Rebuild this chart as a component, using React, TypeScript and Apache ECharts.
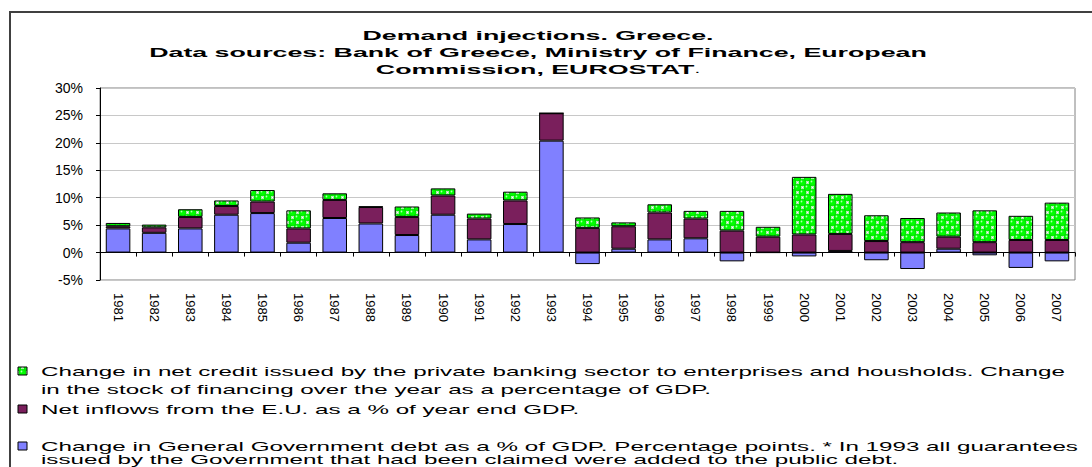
import React, { useEffect, useRef } from "react";
import * as echarts from "echarts";

const years = ["1981","1982","1983","1984","1985","1986","1987","1988","1989","1990","1991","1992","1993","1994","1995","1996","1997","1998","1999","2000","2001","2002","2003","2004","2005","2006","2007"];

// Change in General Government debt, % of GDP
const govDebt = [4.4, 3.6, 4.4, 6.9, 7.2, 1.8, 6.3, 5.3, 3.2, 6.9, 2.4, 5.2, 20.4, -2.1, 0.7, 2.4, 2.6, -1.6, 0.0, -0.7, 0.3, -1.4, -3.0, 0.7, -0.5, -2.8, -1.6];
// Net inflows from the E.U., % of GDP
const euInflows = [0.4, 1.0, 2.1, 1.6, 2.1, 2.6, 3.3, 3.0, 3.3, 3.5, 3.8, 4.3, 5.0, 4.5, 4.1, 4.9, 3.6, 4.0, 2.9, 3.3, 3.1, 2.1, 1.9, 2.2, 1.9, 2.3, 2.3];
// Change in net private credit, % of GDP
const privCredit = [0.6, 0.5, 1.4, 1.0, 2.1, 3.3, 1.2, 0.1, 1.9, 1.3, 0.9, 1.6, 0.0, 1.9, 0.7, 1.5, 1.4, 3.6, 1.8, 10.5, 7.3, 4.7, 4.4, 4.4, 5.8, 4.4, 6.8];

const yTicks = { min: -5, max: 30, interval: 5 };

const titleLines = [
  "Demand injections. Greece.",
  "Data sources: Bank of Greece, Ministry of Finance, European",
];
const titleLine3Bold = "Commission, EUROSTAT";
const titleLine3Rest = ".";

const legendCredit = [
  "Change in net credit issued by the private banking sector to enterprises and housholds. Change",
  "in the stock of financing over the year as a percentage of GDP.",
];
const legendEU = ["Net inflows from the E.U. as a % of year end GDP."];
const legendDebt = [
  "Change in General Government debt as a % of GDP. Percentage points. * In 1993 all guarantees",
  "issued by the Government that had been claimed were added to the public debt.",
];

const BLUE = "#8080FF";
const PURPLE = "#7A1F5C";
const FONT = "'Liberation Sans', Arial, sans-serif";

function makePattern() {
  const s = 10;
  const c = document.createElement("canvas");
  c.width = s;
  c.height = s;
  const ctx = c.getContext("2d")!;
  ctx.fillStyle = "#ffffff";
  ctx.fillRect(0, 0, s, s);
  const ball = (x: number, y: number) => {
    ctx.beginPath();
    ctx.arc(x, y, 3.6, 0, Math.PI * 2);
    ctx.fillStyle = "#00ff00";
    ctx.fill();
    ctx.lineWidth = 0.6;
    ctx.strokeStyle = "#00c000";
    ctx.stroke();
    ctx.beginPath();
    ctx.arc(x - 1, y - 1, 0.9, 0, Math.PI * 2);
    ctx.fillStyle = "#b0ffb0";
    ctx.fill();
  };
  for (const [x, y] of [[2.5, 2.5], [7.5, 7.5], [-2.5, 7.5], [7.5, -2.5], [12.5, 2.5], [2.5, 12.5], [-2.5, -2.5], [12.5, 12.5]]) ball(x, y);
  return { image: c, repeat: "repeat", imageWidth: s, imageHeight: s } as any;
}

export default function App() {
  const ref = useRef<HTMLDivElement>(null);
  useEffect(() => {
    if (!ref.current) return;
    const chart = echarts.init(ref.current, null, { renderer: "svg" });
    const pattern = makePattern();

    const seriesDefs = [
      { name: legendCredit.join(" "), data: privCredit, color: pattern, lines: legendCredit, ys: [371, 389] },
      { name: legendEU.join(" "), data: euInflows, color: PURPLE, lines: legendEU, ys: [409] },
      { name: legendDebt.join(" "), data: govDebt, color: BLUE, lines: legendDebt, ys: [446, 459] },
    ];

    const graphics: any[] = [
      {
        type: "rect",
        shape: { x: 10, y: 12, width: 1200, height: 600 },
        style: { fill: "none", stroke: "#404040", lineWidth: 2 },
        silent: true,
        z: -10,
      },
    ];
    const titleYs = [35, 52];
    titleLines.forEach((t, i) => {
      graphics.push({
        type: "text",
        x: 538,
        y: titleYs[i],
        scaleX: 2.06,
        style: {
          text: t,
          fontSize: 13,
          fontWeight: "bold",
          fontFamily: FONT,
          fill: "#000",
          align: "center",
          verticalAlign: "middle",
        },
      });
    });
    graphics.push({
      type: "text",
      x: 538,
      y: 69,
      scaleX: 2.06,
      style: {
        text: `{b|${titleLine3Bold}}{r|${titleLine3Rest}}`,
        fontSize: 13,
        fontFamily: FONT,
        fill: "#000",
        align: "center",
        verticalAlign: "middle",
        rich: {
          b: { fontSize: 13, fontWeight: "bold", fontFamily: FONT, fill: "#000" },
          r: { fontSize: 10, fontFamily: FONT, fill: "#000" },
        },
      },
    });
    seriesDefs.forEach((s) => {
      graphics.push({
        type: "rect",
        shape: { x: 18, y: s.ys[0] - 4, width: 9, height: 8 },
        style: { fill: s.color, stroke: "#000", lineWidth: 1 },
      });
      s.lines.forEach((ln, j) => {
        graphics.push({
          type: "text",
          x: 41,
          y: s.ys[j],
          scaleX: 1.86,
          style: {
            text: ln,
            fontSize: 13,
            fontFamily: FONT,
            fill: "#000",
            align: "left",
            verticalAlign: "middle",
          },
        });
      });
    });

    const order = [seriesDefs[2], seriesDefs[1], seriesDefs[0]];

    chart.setOption({
      animation: false,
      backgroundColor: "#ffffff",
      grid: {
        left: 100,
        right: 17,
        top: 88,
        bottom: 187,
        show: true,
        borderColor: "#808080",
        borderWidth: 1,
      },
      xAxis: [
        {
          type: "category",
          data: years,
          position: "bottom",
          axisLine: { show: false, onZero: false },
          axisTick: { show: false },
          axisLabel: {
            interval: 0,
            rotate: -90,
            margin: 13,
            fontSize: 13,
            fontFamily: FONT,
            color: "#000",
          },
        },
        {
          type: "category",
          data: years,
          position: "bottom",
          axisLine: { show: true, onZero: true, lineStyle: { color: "#000", width: 1 } },
          axisTick: { show: true, length: 4, lineStyle: { color: "#000" } },
          axisLabel: { show: false },
        },
      ],
      yAxis: {
        type: "value",
        min: yTicks.min,
        max: yTicks.max,
        interval: yTicks.interval,
        axisLine: { show: true, lineStyle: { color: "#000", width: 1 } },
        axisTick: { show: true, length: 4, lineStyle: { color: "#000" } },
        axisLabel: {
          formatter: "{value}%",
          fontSize: 14,
          fontFamily: FONT,
          color: "#000",
          margin: 17,
        },
        splitLine: { show: true, lineStyle: { color: "#c8c8c8", width: 1 } },
      },
      series: order.map((s) => ({
        type: "bar",
        name: s.name,
        stack: "total",
        data: s.data,
        xAxisIndex: 0,
        barCategoryGap: "32%",
        itemStyle: { color: s.color, borderColor: "#000", borderWidth: 1 },
        emphasis: { disabled: true },
      })),
      graphic: graphics,
    });
    return () => chart.dispose();
  }, []);
  return (
    <div
      ref={ref}
      style={{ position: "absolute", left: 0, top: 0, width: 1092, height: 467, overflow: "hidden", background: "#fff" }}
    />
  );
}
